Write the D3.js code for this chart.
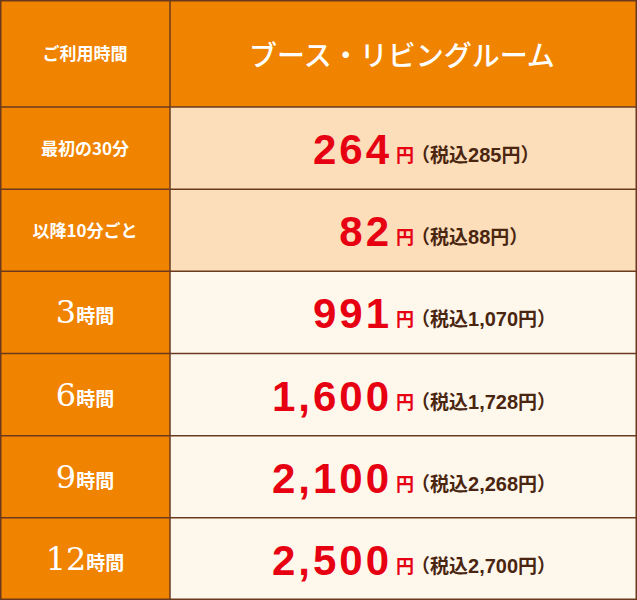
<!DOCTYPE html>
<html><head><meta charset="utf-8">
<script src="https://cdn.jsdelivr.net/npm/d3@7"></script>
<style>body{margin:0;background:#fff}</style>
</head><body>
<div id="chart"></div>
<script>
var headers = ["ご利用時間", "ブース・リビングルーム"];
var labelNums = ["", "", "3", "6", "9", "12"];
var labelTexts = ["最初の30分", "以降10分ごと", "時間", "時間", "時間", "時間"];
var prices = ["264", "82", "991", "1,600", "2,100", "2,500"];
var taxPrices = ["285", "88", "1,070", "1,728", "2,268", "2,700"];

var W = 637, H = 600, colX = 170, headH = 107;
var jp = "'Noto Sans CJK JP', sans-serif";
var svg = d3.select("#chart").append("svg").attr("width", W).attr("height", H);

var y = d3.scaleBand().domain(d3.range(prices.length)).range([headH, H]);

// header
svg.append("rect").attr("x", 0).attr("y", 0).attr("width", W).attr("height", headH).attr("fill", "#f08300");
svg.append("text").attr("x", 85).attr("y", 60).attr("text-anchor", "middle")
  .attr("font-family", jp).attr("font-weight", 700).attr("font-size", 17).attr("fill", "#fff").text(headers[0]);
svg.append("text").attr("x", 402).attr("y", 66).attr("text-anchor", "middle")
  .attr("font-family", jp).attr("font-weight", 500).attr("font-size", 28).attr("fill", "#fff").text(headers[1]);

var rows = svg.selectAll("g.row").data(prices).join("g").attr("class", "row")
  .attr("transform", (d, i) => "translate(0," + y(i) + ")");
var bh = y.bandwidth();

rows.append("rect").attr("width", colX).attr("height", bh).attr("fill", "#f08300");
rows.append("rect").attr("x", colX).attr("width", W - colX).attr("height", bh)
  .attr("fill", (d, i) => i < 2 ? "#fcdeba" : "#fef8ec");

rows.each(function(d, i) {
  var g = d3.select(this);
  var t = g.append("text").attr("x", 85).attr("y", bh / 2 + 7).attr("text-anchor", "middle")
    .attr("fill", "#fff").attr("font-family", jp).attr("font-weight", 700);
  if (labelNums[i]) {
    t.append("tspan").attr("font-family", "'DejaVu Serif', serif").attr("font-weight", 400)
      .attr("font-size", 32).text(labelNums[i]);
    t.append("tspan").attr("font-size", 19).text(labelTexts[i]);
    t.attr("y", bh / 2 + 11);
  } else {
    t.attr("font-size", 17).text(labelTexts[i]);
  }
  g.append("text").attr("x", 392).attr("y", bh / 2 + 16).attr("text-anchor", "end")
    .attr("font-family", "'Liberation Sans', Arial, sans-serif").attr("font-weight", 700)
    .attr("font-size", 42).attr("letter-spacing", 3).attr("fill", "#e60012").text(d);
  g.append("text").attr("x", 396).attr("y", bh / 2 + 14).attr("font-family", jp).attr("font-weight", 700)
    .attr("font-size", 18).attr("fill", "#e60012").text("円");
  var t2 = g.append("text").attr("x", 411).attr("y", bh / 2 + 14).attr("font-family", jp)
    .attr("font-weight", 700).attr("font-size", 19).attr("fill", "#4a2510");
  t2.append("tspan").text("（税込");
  t2.append("tspan").attr("font-family", "'Liberation Sans', Arial, sans-serif").attr("font-size", 20).text(taxPrices[i]);
  t2.append("tspan").text("円）");
});

var lc = "#6b3a1e";
svg.selectAll("line.h").data(d3.range(prices.length)).join("line")
  .attr("x1", 0).attr("x2", W).attr("y1", i => y(i)).attr("y2", i => y(i))
  .attr("stroke", lc).attr("stroke-width", 1.5);
svg.append("line").attr("x1", colX).attr("x2", colX).attr("y1", 0).attr("y2", H)
  .attr("stroke", lc).attr("stroke-width", 1.5);
svg.append("rect").attr("x", 0.75).attr("y", 0.75).attr("width", W - 1.5).attr("height", H - 1.5)
  .attr("fill", "none").attr("stroke", lc).attr("stroke-width", 1.5);
</script>
</body></html>
